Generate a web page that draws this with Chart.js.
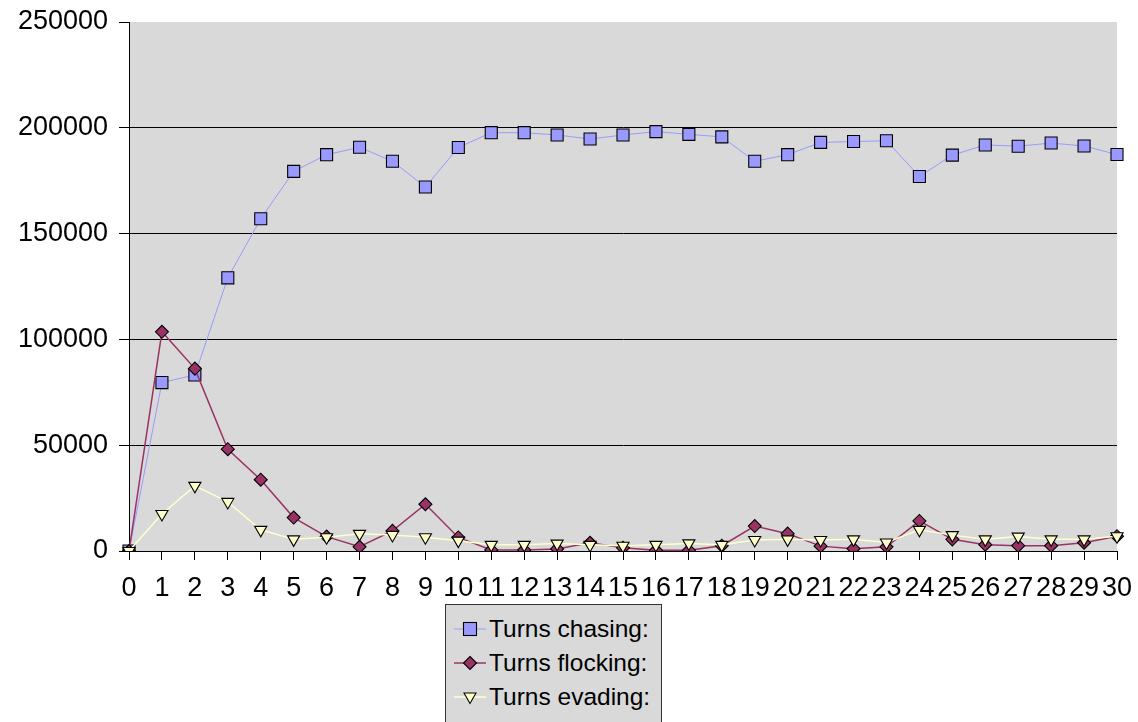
<!DOCTYPE html>
<html>
<head>
<meta charset="utf-8">
<script src="https://cdn.jsdelivr.net/npm/chart.js@4.4.0/dist/chart.umd.min.js"></script>
<style>
  html, body { margin:0; padding:0; background:#fff; overflow:hidden; }
  #wrap { position:relative; width:1138px; height:722px; }
  #legend { position:absolute; left:445px; top:604px; width:217px; height:140px;
            background:#d9d9d9; border:1.5px solid #333; box-sizing:border-box;
            font-family:"Liberation Sans", Arial, sans-serif; font-size:24.5px; color:#000; }
  .row { position:absolute; left:8px; height:30px; display:flex; align-items:center; }
  .row svg { display:block; margin-right:3px; }
</style>
</head>
<body>
<div id="wrap">
  <canvas id="c" width="1138" height="722"></canvas>
  <div id="legend"></div>
</div>
<script>
const categories = ["0","1","2","3","4","5","6","7","8","9","10","11","12","13","14","15","16","17","18","19","20","21","22","23","24","25","26","27","28","29","30"];
const seriesNames = ["Turns chasing:", "Turns flocking:", "Turns evading:"];
const chasing = [0, 79600, 83200, 129100, 157000, 179400, 187300, 190800, 184200, 172000, 190700, 197700, 197700, 196600, 194700, 196600, 198200, 196900, 195700, 184200, 187300, 193100, 193500, 193900, 177000, 187100, 191900, 191300, 192800, 191400, 187400];
const flocking = [0, 103600, 86200, 48100, 33700, 15800, 6800, 2000, 9500, 22100, 6400, 500, 500, 1000, 3900, 1500, 300, 300, 2500, 11800, 8200, 2300, 1100, 2000, 14200, 5500, 3000, 2500, 2500, 3900, 7000];
const evading = [0, 17500, 30800, 23200, 10000, 5500, 6500, 8100, 7600, 6500, 4900, 2900, 2900, 3500, 2900, 2500, 2900, 3600, 2900, 5200, 5500, 5200, 5500, 4000, 10000, 7500, 5500, 6800, 5500, 5500, 7000];
const yTickValues = [0, 50000, 100000, 150000, 200000, 250000];

const FONT = "'Liberation Sans', Arial, sans-serif";

const bgPlugin = {
  id: 'plotBg',
  beforeDraw(chart) {
    const { ctx, chartArea: a } = chart;
    ctx.save();
    ctx.fillStyle = '#d9d9d9';
    ctx.fillRect(a.left, a.top, a.right - a.left, a.bottom - a.top);
    ctx.restore();
  }
};

const styles = [
  { line: '#9999ff', fill: '#9999ff', shape: 'rect', r: 8.5, rot: 0, lw: 1 },
  { line: '#993366', fill: '#993366', shape: 'rectRot', r: 6.5, rot: 0, lw: 1.5 },
  { line: '#ffffcc', fill: '#ffffcc', shape: 'triangle', r: 7, rot: 180, lw: 1.5 }
];
const seriesData = [chasing, flocking, evading];

const datasets = seriesData.map((d, i) => ({
  label: seriesNames[i],
  data: d,
  borderColor: styles[i].line,
  borderWidth: styles[i].lw,
  backgroundColor: styles[i].fill,
  pointStyle: styles[i].shape,
  pointRadius: styles[i].r,
  pointRotation: styles[i].rot,
  pointBackgroundColor: styles[i].fill,
  pointBorderColor: '#000',
  pointBorderWidth: 1.1,
  tension: 0,
  fill: false,
  order: 2 - i
}));

new Chart(document.getElementById('c'), {
  type: 'line',
  data: { labels: categories, datasets },
  plugins: [bgPlugin],
  options: {
    responsive: false,
    animation: false,
    layout: { padding: { top: 22, right: 21, left: 0, bottom: 0 } },
    plugins: { legend: { display: false }, tooltip: { enabled: false } },
    scales: {
      x: {
        offset: false,
        ticks: { color: '#000', font: { family: FONT, size: 27 }, autoSkip: false, maxRotation: 0, minRotation: 0, padding: 12 },
        grid: { drawOnChartArea: false, drawTicks: true, tickLength: 9, color: '#000', lineWidth: 1 },
        border: { color: '#000', width: 1 },
        afterFit: s => { s.height = 171; s.paddingLeft = 0; s.paddingRight = 0; }
      },
      y: {
        min: 0, max: 250000,
        afterBuildTicks: s => { s.ticks = yTickValues.map(v => ({ value: v })); },
        ticks: { color: '#000', font: { family: FONT, size: 27 }, padding: 11, callback: v => String(v) },
        grid: { color: c => (c.tick && c.tick.value === 250000) ? 'rgba(0,0,0,0)' : '#000', tickColor: '#000', tickLength: 10, lineWidth: 1 },
        border: { color: '#000', width: 1 },
        afterFit: s => { s.width = 129; s.paddingTop = 0; s.paddingBottom = 0; }
      }
    }
  }
});

// HTML legend built from the series
const legend = document.getElementById('legend');
const rowTops = [9, 43, 77];
seriesNames.forEach((name, i) => {
  const st = styles[i];
  const row = document.createElement('div');
  row.className = 'row';
  row.style.top = rowTops[i] + 'px';
  let marker = '';
  if (st.shape === 'rect') marker = '<rect x="9.5" y="8.5" width="13" height="13" fill="' + st.fill + '" stroke="#000" stroke-width="1.1"/>';
  else if (st.shape === 'rectRot') marker = '<polygon points="16,8.5 22.5,15 16,21.5 9.5,15" fill="' + st.fill + '" stroke="#000" stroke-width="1.1"/>';
  else marker = '<polygon points="10,11 22,11 16,21.5" fill="' + st.fill + '" stroke="#000" stroke-width="1.1"/>';
  row.innerHTML = '<svg width="32" height="30" viewBox="0 0 32 30"><line x1="0" y1="15" x2="32" y2="15" stroke="' + st.line + '" stroke-width="' + st.lw + '"/>' + marker + '</svg><span>' + name + '</span>';
  legend.appendChild(row);
});
</script>
</body>
</html>
